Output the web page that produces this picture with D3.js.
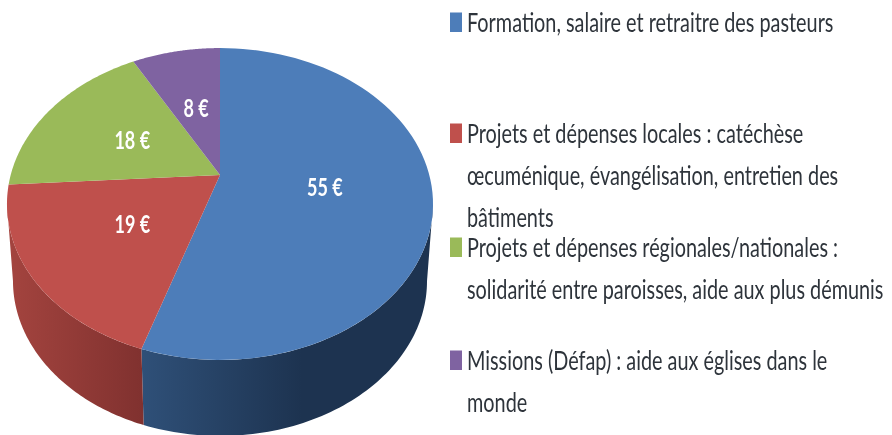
<!DOCTYPE html>
<html>
<head>
<meta charset="utf-8">
<script src="https://cdnjs.cloudflare.com/ajax/libs/d3/7.8.5/d3.min.js"></script>
<style>
html, body { margin: 0; padding: 0; background: #fff; overflow: hidden; }
svg { display: block; filter: blur(0.45px); }
text { font-family: Lato, "Open Sans", sans-serif; white-space: pre; }
</style>
</head>
<body>
<script>
var amounts = [55, 19, 18, 8];
var amountLabels = ['55 €', '19 €', '18 €', '8 €'];
var sliceColors = ['#4d7db9', '#bf504c', '#9aba59', '#7f63a1'];
var legendLines = [
    ['Formation, salaire et retraitre des pasteurs'],
    ['Projets et dépenses locales : catéchèse', 'œcuménique, évangélisation, entretien des', 'bâtiments'],
    ['Projets et dépenses régionales/nationales :', 'solidarité entre paroisses, aide aux plus démunis'],
    ['Missions (Défap) : aide aux églises dans le', 'monde']
];

var ww = 892, hh = 435;
var svg = d3.select('body').append('svg').attr('width', ww).attr('height', hh);
var def = svg.append('defs');

var addGrad = function(id, stops) {
    var g = def.append('linearGradient').attr('id', id).attr('x1', '0%').attr('y1', '0%').attr('x2', '100%').attr('y2', '0%');
    stops.forEach(function(s) {
        g.append('stop').attr('offset', s[0]).attr('stop-color', s[1]);
    });
};
addGrad('sideBlue', [['0%', '#2f5078'], ['55%', '#1d3350'], ['100%', '#1d3350']]);
addGrad('sideRed', [['0%', '#a4443f'], ['100%', '#80312f']]);

// pie seen in perspective: centre of the pie is not the centre of the ellipse
var cx = 220, persp = -0.186, topE = 209.3, topA = 118, topB = 175;
var topPoint = function(angle, r) {
    var u = r * Math.sin(angle), v = -r * Math.cos(angle), w = 1 + persp * v;
    return [cx + topE * u / w, (topA * v + topB) / w];
};
// bottom rim, top ellipse remapped to a narrower one
var topRx = 213, topRy = 156, topYc = 204, botRx = 207, botRy = 155, botYc = 281;
var botPoint = function(angle) {
    var p = topPoint(angle, 1);
    return [cx + (p[0] - cx) / topRx * botRx, botYc + (p[1] - topYc) / topRy * botRy];
};
var line = d3.line();
var sweep = function(a0, a1, fn) {
    return d3.range(0, 81).map(function(i) {
        return fn(a0 + (a1 - a0) * i / 80);
    });
};
var rim = function(a) { return topPoint(a, 1); };

var arcs = d3.pie().sort(null).value(function(d) { return d; })(amounts);

// sides, only blue and red ones show. they stop where the rim is widest
var widest = Math.acos(persp);
var sides = [
    {a0: widest, a1: arcs[0].endAngle, fill: 'url(#sideBlue)'},
    {a0: arcs[1].startAngle, a1: 2 * Math.PI - widest, fill: 'url(#sideRed)'}
];
svg.append('g').selectAll('path').data(sides).enter().append('path')
    .attr('d', function(d) {
        return line(sweep(d.a0, d.a1, rim).concat(sweep(d.a1, d.a0, botPoint))) + 'Z';
    })
    .attr('fill', function(d) { return d.fill; });

svg.append('g').selectAll('path').data(arcs).enter().append('path')
    .attr('d', function(d) {
        return line([topPoint(0, 0)].concat(sweep(d.startAngle, d.endAngle, rim))) + 'Z';
    })
    .attr('fill', function(d, i) { return sliceColors[i]; });

svg.append('g').selectAll('text').data(arcs).enter().append('text')
    .attr('transform', function(d) {
        var p = topPoint((d.startAngle + d.endAngle) / 2, 0.5);
        return 'translate(' + p[0] + ',' + p[1] + ') scale(0.72,1)';
    })
    .attr('text-anchor', 'middle').attr('dy', '0.35em')
    .attr('font-size', 25).attr('font-weight', 700).attr('fill', '#fff')
    .text(function(d, i) { return amountLabels[i]; });

// legend
var legendTop = [32, 143, 257, 370], lineGap = 42, squeeze = 0.735;
var legend = svg.append('g').selectAll('g').data(legendLines).enter().append('g')
    .attr('transform', function(d, i) { return 'translate(0,' + legendTop[i] + ')'; });
legend.append('rect').attr('x', 450).attr('y', -19.5).attr('width', 12).attr('height', 19.5)
    .attr('fill', function(d, i) { return sliceColors[i]; });
legend.selectAll('text').data(function(d) { return d; }).enter().append('text')
    .attr('transform', function(d, i) { return 'translate(467,' + (i * lineGap) + ') scale(' + squeeze + ',1)'; })
    .attr('font-size', 27).attr('fill', '#2e343b')
    .text(function(d) { return d; });
</script>
</body>
</html>
